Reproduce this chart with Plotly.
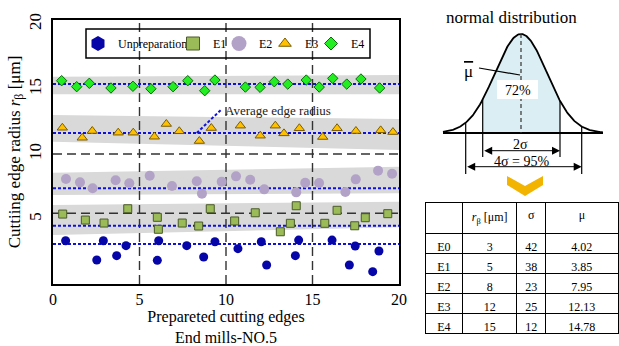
import numpy as np
import plotly.graph_objects as go

SERIF = "Liberation Serif"
W, H = 619, 346

# ---------------- measured edge radii (x: cutting edge no., y: r_beta in um) ----------------
unprep_x = [0.73, 2.53, 2.91, 3.68, 4.22, 6.03, 6.11, 7.73, 8.71, 9.36,
            10.69, 12.04, 12.35, 14.01, 14.20, 16.13, 17.13, 17.47, 18.48, 18.84]
unprep_y = [3.33, 1.85, 3.33, 2.18, 2.95, 1.82, 3.33, 2.95, 2.08, 3.25,
            2.72, 3.25, 1.46, 2.18, 3.38, 3.38, 1.46, 2.92, 0.95, 2.54]

e1_x = [0.56, 1.87, 2.95, 4.32, 6.03, 6.09, 7.47, 8.42, 9.09, 10.50,
        11.69, 13.14, 13.72, 14.06, 15.71, 16.42, 17.44, 18.05, 19.35]
e1_y = [5.38, 4.92, 4.69, 5.79, 5.13, 4.21, 4.69, 4.46, 5.79, 4.85,
        5.48, 4.02, 4.67, 6.02, 4.67, 5.67, 4.48, 5.10, 5.41]

e2_x = [0.75, 1.56, 2.29, 3.62, 4.41, 5.59, 6.88, 8.31, 8.61, 9.75,
        10.58, 11.40, 12.21, 14.06, 14.58, 15.38, 16.90, 17.50, 18.79, 19.60]
e2_y = [8.08, 7.82, 7.36, 7.98, 7.75, 8.33, 7.54, 7.90, 6.95, 7.87,
        8.28, 8.02, 7.28, 7.05, 7.79, 7.77, 7.08, 8.05, 8.72, 8.48]

e3_x = [0.54, 1.69, 2.27, 3.77, 4.64, 5.86, 6.55, 7.30, 8.46, 9.15,
        10.83, 11.98, 12.85, 13.35, 14.24, 15.59, 16.42, 17.51, 18.94, 19.65]
e3_y = [12.02, 11.25, 11.77, 11.64, 11.64, 11.33, 12.31, 11.75, 11.00, 12.00,
        12.18, 11.41, 12.18, 11.59, 11.98, 11.31, 11.98, 11.77, 11.82, 11.69]

e4_x = [0.50, 1.37, 2.10, 3.35, 4.62, 5.66, 6.94, 7.79, 8.77, 9.36,
        11.12, 11.97, 12.79, 13.57, 14.64, 15.39, 16.17, 16.98, 17.80, 18.88]
e4_y = [15.64, 15.18, 15.44, 15.08, 15.21, 15.02, 15.18, 15.64, 14.87, 15.69,
        15.15, 15.13, 15.56, 15.38, 15.69, 15.15, 15.82, 15.38, 15.77, 15.08]

# average edge radius of each group (blue dotted lines)
avg_unprep, avg_e1, avg_e2, avg_e3, avg_e4 = 3.08, 4.48, 7.36, 11.62, 15.38

# scatter bands: (lower at edge 0, upper at edge 0, lower at edge 20, upper at edge 20)
band_e1 = (3.77, 6.08, 4.36, 6.33)
band_e2 = (6.85, 8.56, 6.98, 9.02)
band_e3 = (10.95, 13.00, 10.31, 12.69)
band_e4 = (14.59, 15.95, 14.59, 16.08)

# dashed reference lines
ref_x = [5, 10, 15]
ref_y = [5.44, 10]

x_ticks = [0, 5, 10, 15, 20]
y_ticks = [5, 10, 15, 20]
X_MAX, Y_MAX = 20, 20.31

# summary table
table_rows = ["E0", "E1", "E2", "E3", "E4"]
table_rbeta = [3, 5, 8, 12, 15]
table_sigma = [42, 38, 23, 25, 12]
table_mu = [4.02, 3.85, 7.95, 12.13, 14.78]

# ---------------- figure ----------------
fig = go.Figure()

# grey scatter bands
for lo0, hi0, lo1, hi1 in (band_e1, band_e2, band_e3, band_e4):
    fig.add_trace(go.Scatter(
        x=[0, X_MAX, X_MAX, 0], y=[lo0, lo1, hi1, hi0], fill="toself",
        fillcolor="#d9d9d9", line=dict(width=0), mode="lines",
        showlegend=False, hoverinfo="skip"))

# dashed black reference lines
vx, vy = [], []
for xv in ref_x:
    vx += [xv, xv, None]
    vy += [0, Y_MAX, None]
hx, hy = [], []
for yv in ref_y:
    hx += [0, X_MAX, None]
    hy += [yv, yv, None]
for lx, ly in ((vx, vy), (hx, hy)):
    fig.add_trace(go.Scatter(x=lx, y=ly, mode="lines",
                             line=dict(color="#333333", width=1.4, dash="9px,5px"),
                             showlegend=False, hoverinfo="skip"))

# average lines
for avg in (avg_unprep, avg_e1, avg_e2, avg_e3, avg_e4):
    fig.add_trace(go.Scatter(x=[0, X_MAX], y=[avg, avg], mode="lines",
                             line=dict(color="#1010dd", width=2, dash="3px,2px"),
                             showlegend=False, hoverinfo="skip"))

# leader for the "Average edge radius" note
note_x, note_y = 9.75, 13.45
fig.add_trace(go.Scatter(x=[8.31, note_x], y=[avg_e3, note_y], mode="lines",
                         line=dict(color="#1010dd", width=2, dash="3px,2px"),
                         showlegend=False, hoverinfo="skip"))
fig.add_annotation(x=note_x + 0.1, y=note_y - 0.1, xref="x", yref="y", text="Average edge radius",
                   showarrow=False, xanchor="left", yanchor="middle",
                   font=dict(family=SERIF, size=13, color="#222"))

# name, x, y, plot marker, legend marker, legend id, legend left edge (px)
series = [
    ("Unpreparation", unprep_x, unprep_y,
     dict(symbol="circle", size=9, color="#0505a8", line=dict(width=0)),
     dict(symbol="hexagon", size=15, color="#0505a8", line=dict(width=0)), "legend", 78),
    ("E1", e1_x, e1_y,
     dict(symbol="square", size=8, color="#9bbb59", line=dict(color="#4a5a28", width=1)),
     dict(symbol="square", size=13, color="#9bbb59", line=dict(color="#4a5a28", width=1)), "legend2", 173),
    ("E2", e2_x, e2_y,
     dict(symbol="circle", size=10, color="#b3a2c7", line=dict(width=0)),
     dict(symbol="circle", size=15, color="#b3a2c7", line=dict(width=0)), "legend3", 219),
    ("E3", e3_x, e3_y,
     dict(symbol="triangle-up", size=9, color="#ffc000", line=dict(color="#7a5c00", width=1)),
     dict(symbol="triangle-up", size=11, color="#ffc000", line=dict(color="#7a5c00", width=1)), "legend4", 265),
    ("E4", e4_x, e4_y,
     dict(symbol="diamond", size=8, color="#22ee22", line=dict(color="#0a6a0a", width=1)),
     dict(symbol="diamond", size=10, color="#22ee22", line=dict(color="#0a6a0a", width=1)), "legend5", 311),
]
for name, xs, ys, mk, _, _, _ in series:
    fig.add_trace(go.Scatter(x=xs, y=ys, mode="markers", marker=mk, name=name,
                             showlegend=False))
for name, _, _, _, lmk, lg, _ in series:
    fig.add_trace(go.Scatter(x=[None], y=[None], mode="markers", marker=lmk, name=name,
                             legend=lg, showlegend=True))

# ---------------- normal distribution sketch (drawn in its own pixel-like frame) ----------------
MU_X, BASE_Y, PEAK_H, SIG = 521, 133, 99, 26
CURVE_L, CURVE_R = 443, 603
IN_L, IN_R = 482.7, 560
OUT_L, OUT_R = 465.7, 581.7


def bell(x):
    return BASE_Y - PEAK_H * np.exp(-0.5 * ((np.asarray(x) - MU_X) / SIG) ** 2)


sx = np.linspace(IN_L, IN_R, 80)
fig.add_trace(go.Scatter(x=np.r_[IN_L, sx, IN_R], y=np.r_[BASE_Y, bell(sx), BASE_Y],
                         fill="toself", fillcolor="#daeef3", line=dict(width=0),
                         mode="lines", xaxis="x2", yaxis="y2", showlegend=False, hoverinfo="skip"))
bx = np.linspace(CURVE_L, CURVE_R, 200)
fig.add_trace(go.Scatter(x=bx, y=bell(bx), mode="lines", line=dict(color="black", width=1.8),
                         xaxis="x2", yaxis="y2", showlegend=False, hoverinfo="skip"))

shapes = []


def seg(x0, y0, x1, y1, width=1.2, dash=None, color="black"):
    shapes.append(dict(type="line", xref="x2", yref="y2", x0=x0, y0=y0, x1=x1, y1=y1,
                       line=dict(color=color, width=width, dash=dash)))


seg(CURVE_L, BASE_Y, CURVE_R, BASE_Y, width=1.8)
seg(MU_X, BASE_Y - PEAK_H, MU_X, BASE_Y, dash="4px,3px", color="#333")
seg(IN_L, float(bell(IN_L)), IN_L, 157)
seg(IN_R, float(bell(IN_R)), IN_R, 157)
seg(OUT_L, float(bell(OUT_L)), OUT_L, 174)
seg(OUT_R, float(bell(OUT_R)), OUT_R, 174)
seg(479, 68, 520, 75)
shapes.append(dict(type="rect", xref="x2", yref="y2", x0=497, x1=538, y0=80, y1=99,
                   fillcolor="white", line=dict(width=0)))
shapes.append(dict(type="path", xref="x2", yref="y2",
                   path="M507,176 L525,186 L543,176 L543,185 L525,196 L507,185 Z",
                   fillcolor="#f2b400", line=dict(width=0)))
# legend frame
shapes.append(dict(type="rect", xref="paper", yref="paper", x0=86 / W, x1=370 / W,
                   y0=1 - 58 / H, y1=1 - 29 / H, line=dict(color="black", width=1.5)))

for y_arrow, xl, xr in ((150.7, IN_L, IN_R), (166.7, OUT_L, OUT_R)):
    fig.add_annotation(x=xr, y=y_arrow, ax=xl, ay=y_arrow, xref="x2", yref="y2",
                       axref="x2", ayref="y2", text="", showarrow=True,
                       arrowside="end+start", arrowhead=2, arrowsize=1.6, arrowwidth=1,
                       arrowcolor="black", standoff=0, startstandoff=0)

labels = [
    ("normal distribution", 511.5, 17, 17),
    ("<span style='text-decoration:overline'>μ</span>", 468, 71, 17),
    ("72%", 517.5, 90, 14),
    ("2σ", 520, 144, 14),
    ("4σ = 95%", 521.7, 161, 14),
]
for txt, lx, ly, fs in labels:
    fig.add_annotation(x=lx, y=ly, xref="x2", yref="y2", text=txt, showarrow=False,
                       font=dict(family=SERIF, size=fs, color="black"))

# ---------------- summary table ----------------
fig.add_trace(go.Table(
    domain=dict(x=[425 / W, 618 / W], y=[1 - 336 / H, 1 - 202 / H]),
    columnwidth=[38, 54.6, 29.4, 73],
    header=dict(values=["", "<i>r</i><sub>β</sub>\u00a0[μm]", "σ", "μ"], height=22,
                align="center", line=dict(color="black", width=1), fill=dict(color="white"),
                font=dict(family=SERIF, size=12, color="black")),
    cells=dict(values=[table_rows, table_rbeta, table_sigma, table_mu], height=20,
               align="center", format=[None, None, None, ".2f"],
               line=dict(color="black", width=1), fill=dict(color="white"),
               font=dict(family=SERIF, size=12, color="black")),
))

# ---------------- layout ----------------
L, R, T, B = 53, 399, 20, 284
LEG_Y = 1 - 43.5 / H
legend_common = dict(y=LEG_Y, xanchor="left", yanchor="middle", orientation="h",
                     bgcolor="rgba(0,0,0,0)", borderwidth=0,
                     font=dict(family=SERIF, size=12, color="black"))
legends = {lg: dict(x=lx / W, **legend_common) for _, _, _, _, _, lg, lx in series}

fig.update_layout(
    width=W, height=H, margin=dict(l=0, r=0, t=0, b=0),
    paper_bgcolor="white", plot_bgcolor="white",
    font=dict(family=SERIF, color="black"),
    shapes=shapes,
    xaxis=dict(domain=[L / W, R / W], range=[0, X_MAX], tickvals=x_ticks,
               showline=True, linecolor="black", linewidth=2, mirror=True,
               showgrid=False, zeroline=False, ticks="", automargin=False,
               tickfont=dict(family=SERIF, size=16), ticklabelstandoff=0,
               title=dict(text="Prepareted cutting edges<br>End mills-NO.5",
                          font=dict(family=SERIF, size=16))),
    yaxis=dict(domain=[1 - B / H, 1 - T / H], range=[0, Y_MAX], tickvals=y_ticks,
               showline=True, linecolor="black", linewidth=2, mirror=True,
               showgrid=False, zeroline=False, ticks="", automargin=False,
               tickangle=-90, tickfont=dict(family=SERIF, size=17), ticklabelstandoff=3,
               title=dict(text="Cuttiing edge radius <i>r</i><sub>β</sub> [μm]",
                          font=dict(family=SERIF, size=17), standoff=0)),
    xaxis2=dict(domain=[410 / W, 1], range=[410, 619], visible=False, anchor="y2",
                fixedrange=True),
    yaxis2=dict(domain=[0, 1], range=[346, 0], visible=False, anchor="x2",
                fixedrange=True),
    **legends,
)

fig.write_html("out.html")
